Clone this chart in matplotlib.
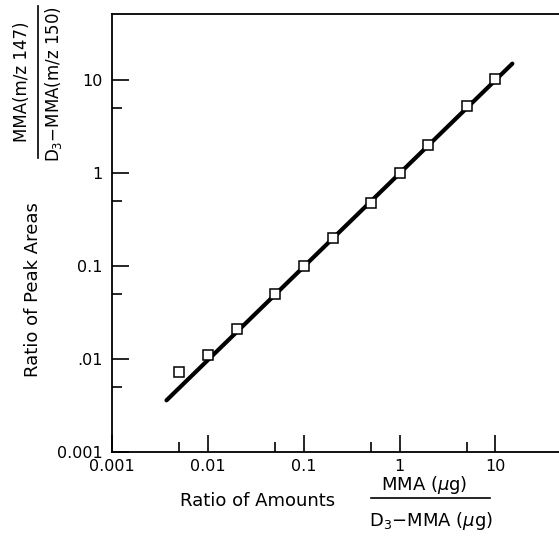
import matplotlib
matplotlib.use("Agg")
import matplotlib.pyplot as plt
from matplotlib.ticker import FixedLocator, NullFormatter

# measured points
amount_ratio = [0.005, 0.01, 0.02, 0.05, 0.1, 0.2, 0.5, 1, 2, 5, 10]
area_ratio = [0.0072, 0.011, 0.021, 0.05, 0.1, 0.2, 0.48, 1.0, 2.0, 5.2, 10.3]

# calibration line ends
fit_x = [0.0037, 15]
fit_y = [0.0036, 15]

x_ticks = [0.001, 0.01, 0.1, 1, 10]
x_labels = ["0.001", "0.01", "0.1", "1", "10"]
y_ticks = [0.001, 0.01, 0.1, 1, 10]
y_labels = ["0.001", ".01", "0.1", "1", "10"]
minor_ticks = [0.005, 0.05, 0.5, 5]

plt.rcParams['font.family'] = ['DejaVu Sans']

fig = plt.figure(figsize=(5.59, 5.46), dpi=100)
ax = fig.add_axes([0.2004, 0.172, 0.7996, 0.802])

ax.plot(fit_x, fit_y, color="black", lw=3, solid_capstyle="round", zorder=2)
ax.plot(amount_ratio, area_ratio, "s", ms=7.5, mfc="white", mec="black", mew=1.1, zorder=3)

ax.set_xscale("log")
ax.set_yscale("log")
ax.set_xlim(0.001, 46)
ax.set_ylim(0.001, 51)

ax.xaxis.set_major_locator(FixedLocator(x_ticks))
ax.set_xticklabels(x_labels)
ax.yaxis.set_major_locator(FixedLocator(y_ticks))
ax.set_yticklabels(y_labels)
ax.xaxis.set_minor_locator(FixedLocator(minor_ticks))
ax.yaxis.set_minor_locator(FixedLocator(minor_ticks))
ax.xaxis.set_minor_formatter(NullFormatter())
ax.yaxis.set_minor_formatter(NullFormatter())

ax.tick_params(which="major", direction="in", length=12, width=1.2, labelsize=11.5)
ax.tick_params(axis="x", which="major", pad=5)
ax.tick_params(axis="y", which="major", pad=7)
ax.tick_params(which="minor", direction="in", length=7, width=1.2)
ax.tick_params(top=False, right=False, which="both")
ax.spines["right"].set_visible(False)
for s in ["left", "bottom", "top"]:
    ax.spines[s].set_linewidth(1.3)

lab = 13

# x axis label with fraction
fig.text(258 / 559, 1 - 501 / 546, "Ratio of Amounts", ha="center", va="center", fontsize=lab)
fig.text(424 / 559, 1 - 485 / 546, r"MMA ($\mu$g)", ha="center", va="center", fontsize=lab)
fig.add_artist(plt.Line2D([371 / 559, 490 / 559], [1 - 498 / 546] * 2, color="black", lw=1.2))
fig.text(431 / 559, 1 - 521 / 546, r"D$_3$$-$MMA ($\mu$g)", ha="center", va="center", fontsize=lab)

# y axis label with fraction
fig.text(33 / 559, 1 - 290 / 546, "Ratio of Peak Areas", ha="center", va="center",
         rotation=90, fontsize=lab)
fig.text(22 / 559, 1 - 82 / 546, "MMA(m/z 147)", ha="center", va="center",
         rotation=90, fontsize=12)
fig.add_artist(plt.Line2D([38 / 559] * 2, [1 - 6 / 546, 1 - 158 / 546], color="black", lw=1.2))
fig.text(54 / 559, 1 - 84 / 546, r"D$_3$$-$MMA(m/z 150)", ha="center", va="center",
         rotation=90, fontsize=12)

fig.savefig("out.png", dpi=100)
